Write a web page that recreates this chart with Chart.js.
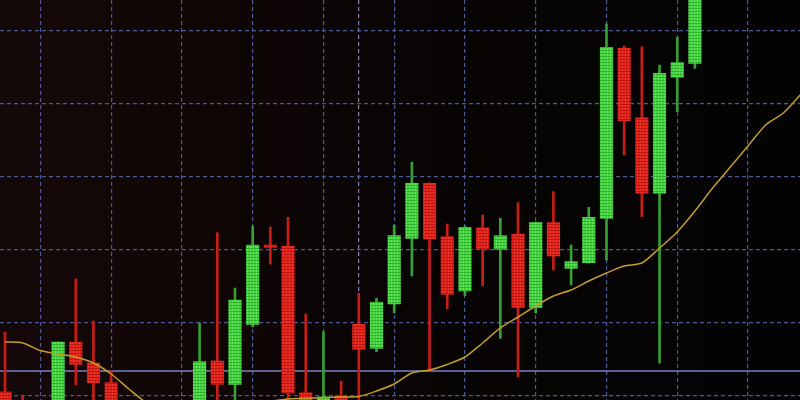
<!DOCTYPE html>
<html>
<head>
<meta charset="utf-8">
<script src="https://cdn.jsdelivr.net/npm/chart.js@4.4.1/dist/chart.umd.min.js"></script>
<style>
  html, body { margin: 0; padding: 0; width: 800px; height: 400px; overflow: hidden; background: #050404; }
  #wrap {
    position: relative; width: 800px; height: 400px;
    background: linear-gradient(90deg, #150808 0%, #100606 25%, #080404 55%, #030303 100%);
  }
  canvas { display: block; }
</style>
</head>
<body>
<div id="wrap"><canvas id="chart" width="800" height="400"></canvas></div>
<script>
// Session index of each candle (0 = leftmost)
const sessions = [0,1,2,3,4,5,6,7,8,9,10,11,12,13,14,15,16,17,18,19,20,21,22,23,24,25,26,27,28,29,30,31,32,33,34,35,36,37,38,39];

// OHLC prices per session (null = session outside the visible price window)
const openPrices  = [100.55, 98.90, null, 96.50, 107.36, 104.52, 101.82, null, null, null, null,
                     98.00, 104.79, 101.60, 109.82, 120.68, 120.55, 100.45, 97.00, 100.04, 109.82,
                     106.53, 112.60, 121.60, 129.14, 121.82, 114.38, 123.05, 120.10, 122.19, 112.15,
                     123.74, 117.49, 118.26, 124.34, 147.63, 138.12, 127.77, 143.66, 145.56];
const highPrices  = [108.77, 100.04, null, 107.40, 116.03, 110.27, 103.47, null, null, null, null,
                     110.00, 122.37, 114.79, 123.29, 123.15, 124.48, 111.23, 108.81, 102.05, 114.07,
                     113.38, 123.42, 132.01, 129.20, 123.56, 123.29, 124.79, 124.34, 126.48, 123.80,
                     127.99, 120.68, 125.85, 150.96, 147.95, 147.85, 145.34, 149.14, 158.50];
const lowPrices   = [96.71, 96.71, null, 95.80, 101.51, 97.00, 97.50, null, null, null, null,
                     97.00, 97.50, 98.00, 109.45, 118.08, 99.00, 96.50, 96.30, 97.00, 98.50,
                     106.07, 111.37, 116.44, 103.56, 111.92, 113.74, 115.11, 107.90, 102.64, 111.37,
                     117.26, 115.21, 118.20, 118.63, 133.01, 124.56, 104.48, 138.95, 144.89];
const closePrices = [97.40, 97.40, null, 107.40, 104.34, 101.82, 98.50, null, null, null, null,
                     104.70, 101.60, 113.15, 120.68, 120.37, 100.41, 97.50, 99.86, 98.00, 106.40,
                     112.84, 121.96, 129.14, 121.51, 113.93, 123.11, 120.14, 121.96, 112.15, 123.74,
                     119.18, 118.40, 124.48, 147.77, 137.71, 127.77, 144.21, 145.68, 157.00];

// Moving average, sessions 0..45
const movingAverage = [107.40, 107.26, 106.23, 105.75, 105.34, 104.52, 103.01, 100.96, 99.04, 97.67,
                       96.71, 96.30, 96.71, 97.67, 98.63, 99.25, 99.59, 99.66, 99.79, 99.86,
                       99.93, 100.68, 101.64, 103.15, 103.56, 104.32, 105.34, 107.26, 109.32, 110.82,
                       112.33, 113.70, 114.52, 115.75, 116.85, 117.81, 118.22, 120.27, 122.47, 125.34,
                       128.49, 131.37, 134.25, 137.12, 138.77, 141.37];

// Horizontal price level line
const priceLevel = 103.42;

// Grid positions
const timeGrid = [2, 6, 10, 14, 18, 22, 26, 30, 34, 38, 42];
const sessionSeparator = 20;
const priceGrid = [100, 110, 120, 130, 140, 150];

// Visible window
const xMin = -0.283, xMax = 44.94;
const yMin = 99.45, yMax = 154.25;

function mesh(base, light, dark) {
  const c = document.createElement('canvas');
  c.width = 3; c.height = 3;
  const g = c.getContext('2d');
  g.fillStyle = base;  g.fillRect(0, 0, 3, 3);
  g.fillStyle = light; g.fillRect(1, 0, 1, 3);
  g.fillStyle = dark;  g.fillRect(0, 2, 3, 1);
  return g.createPattern(c, 'repeat');
}
const upFill = mesh('#44d240', '#66e660', '#32b42e');
const downFill = mesh('#e0211a', '#ef3a2f', '#bd1711');

const upBodies = [], downBodies = [], upWicks = [], downWicks = [];
sessions.forEach((s, i) => {
  const o = openPrices[i], c = closePrices[i], h = highPrices[i], l = lowPrices[i];
  if (o === null) return;
  const rising = c >= o;
  (rising ? upBodies : downBodies).push({ x: s, y: [o, c] });
  (rising ? upWicks : downWicks).push({ x: s, y: [l, h] });
});

const gridColor = '#4b5996';

new Chart(document.getElementById('chart'), {
  type: 'bar',
  data: {
    datasets: [
      {
        type: 'line', label: 'MA',
        data: movingAverage.map((v, i) => ({ x: i, y: v })),
        borderColor: '#c39c2a', borderWidth: 1.5, pointRadius: 0, tension: 0.25, order: 1
      },
      {
        type: 'line', label: 'Level',
        data: [{ x: xMin, y: priceLevel }, { x: xMax, y: priceLevel }],
        borderColor: '#7982c0', borderWidth: 1.5, pointRadius: 0, order: 10
      },
      { label: 'Up wick', data: upWicks, backgroundColor: '#35a033', barThickness: 2, grouped: false, order: 5 },
      { label: 'Down wick', data: downWicks, backgroundColor: '#c81d16', barThickness: 2, grouped: false, order: 5 },
      { label: 'Up', data: upBodies, backgroundColor: upFill, barThickness: 12.5, grouped: false, order: 3 },
      { label: 'Down', data: downBodies, backgroundColor: downFill, barThickness: 12.5, grouped: false, order: 3 }
    ]
  },
  options: {
    responsive: false,
    animation: false,
    events: [],
    layout: { padding: 0 },
    plugins: { legend: { display: false }, tooltip: { enabled: false } },
    scales: {
      x: {
        type: 'linear', min: xMin, max: xMax, offset: false,
        ticks: { display: false },
        grid: {
          offset: false, drawTicks: false, lineWidth: 1.2,
          color: ctx => ctx.tick && ctx.tick.value === sessionSeparator ? '#8a80b0' : gridColor
        },
        border: { display: false, dash: [4, 3] },
        afterBuildTicks: s => { s.ticks = timeGrid.concat([sessionSeparator]).map(v => ({ value: v })); }
      },
      y: {
        type: 'linear', min: yMin, max: yMax,
        ticks: { display: false },
        grid: { drawTicks: false, lineWidth: 1.2, color: gridColor },
        border: { display: false, dash: [4, 3] },
        afterBuildTicks: s => { s.ticks = priceGrid.map(v => ({ value: v })); }
      }
    }
  }
});
</script>
</body>
</html>
